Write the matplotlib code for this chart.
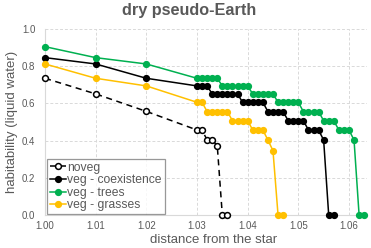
import matplotlib
matplotlib.use("Agg")
import matplotlib.pyplot as plt

plt.rcParams['font.family'] = ['Liberation Sans', 'DejaVu Sans']

# ---- data ----
x_noveg = [1.00, 1.01, 1.02, 1.030, 1.031, 1.032, 1.033, 1.034, 1.035, 1.036]
y_noveg = [0.735, 0.651, 0.557, 0.457, 0.457, 0.403, 0.403, 0.373, 0.0, 0.0]

x_coex = [1.00, 1.01, 1.02,
          1.030, 1.031, 1.032,
          1.033, 1.034, 1.035, 1.036, 1.037, 1.038,
          1.039, 1.040, 1.041, 1.042, 1.043,
          1.044, 1.045, 1.046, 1.047,
          1.048, 1.049, 1.050, 1.051,
          1.052, 1.053, 1.054,
          1.055, 1.056, 1.057]
y_coex = [0.846, 0.812, 0.735,
          0.694, 0.694, 0.694,
          0.651, 0.651, 0.651, 0.651, 0.651, 0.651,
          0.606, 0.606, 0.606, 0.606, 0.606,
          0.556, 0.556, 0.556, 0.556,
          0.507, 0.507, 0.507, 0.507,
          0.457, 0.457, 0.457,
          0.403, 0.0, 0.0]

x_trees = [1.00, 1.01, 1.02,
           1.030, 1.031, 1.032, 1.033, 1.034,
           1.035, 1.036, 1.037, 1.038, 1.039, 1.040,
           1.041, 1.042, 1.043, 1.044, 1.045,
           1.046, 1.047, 1.048, 1.049, 1.050,
           1.051, 1.052, 1.053, 1.054,
           1.055, 1.056, 1.057,
           1.058, 1.059, 1.060,
           1.061, 1.062, 1.063]
y_trees = [0.905, 0.846, 0.812,
           0.735, 0.735, 0.735, 0.735, 0.735,
           0.694, 0.694, 0.694, 0.694, 0.694, 0.694,
           0.651, 0.651, 0.651, 0.651, 0.651,
           0.606, 0.606, 0.606, 0.606, 0.606,
           0.556, 0.556, 0.556, 0.556,
           0.507, 0.507, 0.507,
           0.457, 0.457, 0.457,
           0.403, 0.0, 0.0]

x_grass = [1.00, 1.01, 1.02,
           1.030, 1.031,
           1.032, 1.033, 1.034, 1.035, 1.036,
           1.037, 1.038, 1.039, 1.040,
           1.041, 1.042, 1.043,
           1.044, 1.045, 1.046, 1.047]
y_grass = [0.812, 0.735, 0.694,
           0.606, 0.606,
           0.556, 0.556, 0.556, 0.556, 0.556,
           0.507, 0.507, 0.507, 0.507,
           0.457, 0.457, 0.457,
           0.403, 0.346, 0.0, 0.0]

labels = ["noveg", "veg - coexistence", "veg - trees", "veg - grasses"]
x_ticks = [1.00, 1.01, 1.02, 1.03, 1.04, 1.05, 1.06]
x_ticklabels = ["1.00", "1.01", "1.02", "1.03", "1.04", "1.05", "1.06"]
y_ticks = [0.0, 0.2, 0.4, 0.6, 0.8, 1.0]
y_ticklabels = ["0.0", "0.2", "0.4", "0.6", "0.8", "1.0"]

GRAY = "#595959"
GREEN = "#00B050"
YELLOW = "#FFC000"

fig = plt.figure(figsize=(3.71, 2.48), dpi=100)
ax = fig.add_axes([0.1213, 0.1331, 0.8671, 0.75])

ms = 4.2
lw = 1.1
ax.plot(x_noveg, y_noveg, color="black", lw=lw, ls=(0, (4, 3)), marker="o",
        ms=ms, mfc="white", mec="black", mew=1.1, label=labels[0], clip_on=False, zorder=3)
ax.plot(x_coex, y_coex, color="black", lw=lw, marker="o", ms=ms,
        label=labels[1], clip_on=False, zorder=3)
ax.plot(x_trees, y_trees, color=GREEN, lw=lw, marker="o", ms=ms,
        label=labels[2], clip_on=False, zorder=3)
ax.plot(x_grass, y_grass, color=YELLOW, lw=lw, marker="o", ms=ms,
        label=labels[3], clip_on=False, zorder=3)

ax.set_xlim(1.0, 1.0635)
ax.set_ylim(0, 1.0)
ax.set_xticks(x_ticks)
ax.set_xticklabels(x_ticklabels)
ax.set_yticks(y_ticks)
ax.set_yticklabels(y_ticklabels)
ax.tick_params(length=0, labelsize=7, labelcolor=GRAY)
ax.tick_params(axis="x", pad=4)
ax.tick_params(axis="y", pad=7)

ax.grid(True, color="#d9d9d9", lw=0.7, ls=(0, (3, 2)))
ax.set_axisbelow(True)
for s in ["top", "right"]:
    ax.spines[s].set_visible(False)
for s in ["left", "bottom"]:
    ax.spines[s].set_color("#d9d9d9")
    ax.spines[s].set_linewidth(0.8)

leg = ax.legend(loc="lower left", bbox_to_anchor=(0.0, -0.01), fontsize=8.7,
                frameon=True, fancybox=False, edgecolor="#7f7f7f",
                labelspacing=0.05, handlelength=1.3, handletextpad=0.1,
                borderpad=0.25, borderaxespad=0.2, labelcolor=GRAY)
leg.get_frame().set_linewidth(0.9)
leg.set_zorder(5)

fig.text(0.511, 1 - 15 / 248, "dry pseudo-Earth", ha="center", va="baseline",
         fontsize=11.7, fontweight="bold", color=GRAY)
fig.text(0.575, 1 - 243 / 248, "distance from the star", ha="center", va="baseline",
         fontsize=9.5, color=GRAY)
fig.text(0.0315, 0.5065, "habitability (liquid water)", ha="center", va="center",
         rotation=90, fontsize=9.5, color=GRAY)

fig.savefig("out.png", dpi=100)
